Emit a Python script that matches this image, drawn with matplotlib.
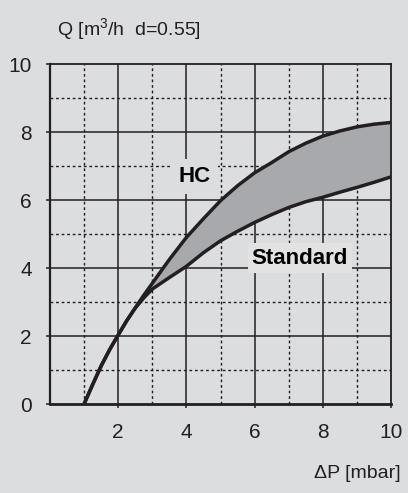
import matplotlib
matplotlib.use("Agg")
import matplotlib.pyplot as plt

plt.rcParams['font.family'] = ['Liberation Sans', 'DejaVu Sans']
plt.rcParams['mathtext.fontset'] = 'custom'
plt.rcParams['mathtext.rm'] = 'Liberation Sans'

dp = [1, 1.25, 1.5, 1.75, 2, 2.25, 2.5, 2.75, 3, 3.5, 4, 4.5, 5, 5.5,
      6, 6.5, 7, 7.5, 8, 8.5, 9, 9.5, 10]
q_hc = [0, 0.57, 1.12, 1.6, 2.03, 2.45, 2.83, 3.2, 3.55, 4.25, 4.9, 5.45,
        5.98, 6.42, 6.8, 7.1, 7.42, 7.67, 7.88, 8.03, 8.15, 8.23, 8.28]
q_standard = [0, 0.57, 1.12, 1.6, 2.03, 2.45, 2.82, 3.12, 3.38, 3.72, 4.05,
              4.45, 4.8, 5.08, 5.34, 5.57, 5.78, 5.95, 6.08, 6.23, 6.37,
              6.52, 6.68]
xticks = [2, 4, 6, 8, 10]
yticks = [0, 2, 4, 6, 8, 10]

bg = "#dcdddf"
ink = "#231f20"

fig = plt.figure(figsize=(4.08, 4.93), dpi=100, facecolor=bg)
ax = fig.add_axes([50/408, 89/493, 341/408, 340/493], facecolor=bg)

for v in [1, 3, 5, 7, 9]:
    ax.axvline(v, color=ink, lw=1.0, ls=(0, (2, 2)), zorder=1)
    ax.axhline(v, color=ink, lw=1.0, ls=(0, (2, 2)), zorder=1)
for v in [2, 4, 6, 8]:
    ax.axvline(v, color=ink, lw=1.1, zorder=1)
    ax.axhline(v, color=ink, lw=1.1, zorder=1)

ax.fill_between(dp, q_standard, q_hc, color="#a8a9ac", zorder=2, lw=0)
ax.plot(dp, q_hc, color=ink, lw=2.5, zorder=3, solid_capstyle='butt')
ax.plot(dp, q_standard, color=ink, lw=2.5, zorder=3, solid_capstyle='butt')

ax.text(4.25, 6.68, "HC", fontsize=16, fontweight='bold', ha='center', va='center',
        color='black', zorder=4,
        bbox=dict(facecolor=bg, edgecolor='none', pad=5))
ax.text(7.33, 4.29, "Standard", fontsize=16, fontweight='bold', ha='center', va='center',
        color='black', zorder=4,
        bbox=dict(facecolor="#e2e2e2", edgecolor='none', pad=3))

ax.set_xlim(0, 10)
ax.set_ylim(0, 10)
ax.set_xticks(xticks)
ax.set_yticks(yticks)
ax.tick_params(axis='both', direction='out', length=3, width=1.1, color=ink,
               labelsize=15, labelcolor=ink)
ax.tick_params(axis='x', pad=11)
ax.tick_params(axis='y', pad=10)
for s in ax.spines.values():
    s.set_color(ink)
    s.set_linewidth(1.3)
ax.spines['bottom'].set_linewidth(2.0)
ax.spines['left'].set_linewidth(1.6)

fig.text(57/408, 1 - 30/493, "Q [m$^3$/h  d=0.55]", fontsize=14, color=ink,
         ha='left', va='center')
fig.text(401/408, 1 - 473/493, "ΔP [mbar]", fontsize=14, color=ink,
         ha='right', va='center')

fig.savefig("out.png", dpi=100, facecolor=bg)
